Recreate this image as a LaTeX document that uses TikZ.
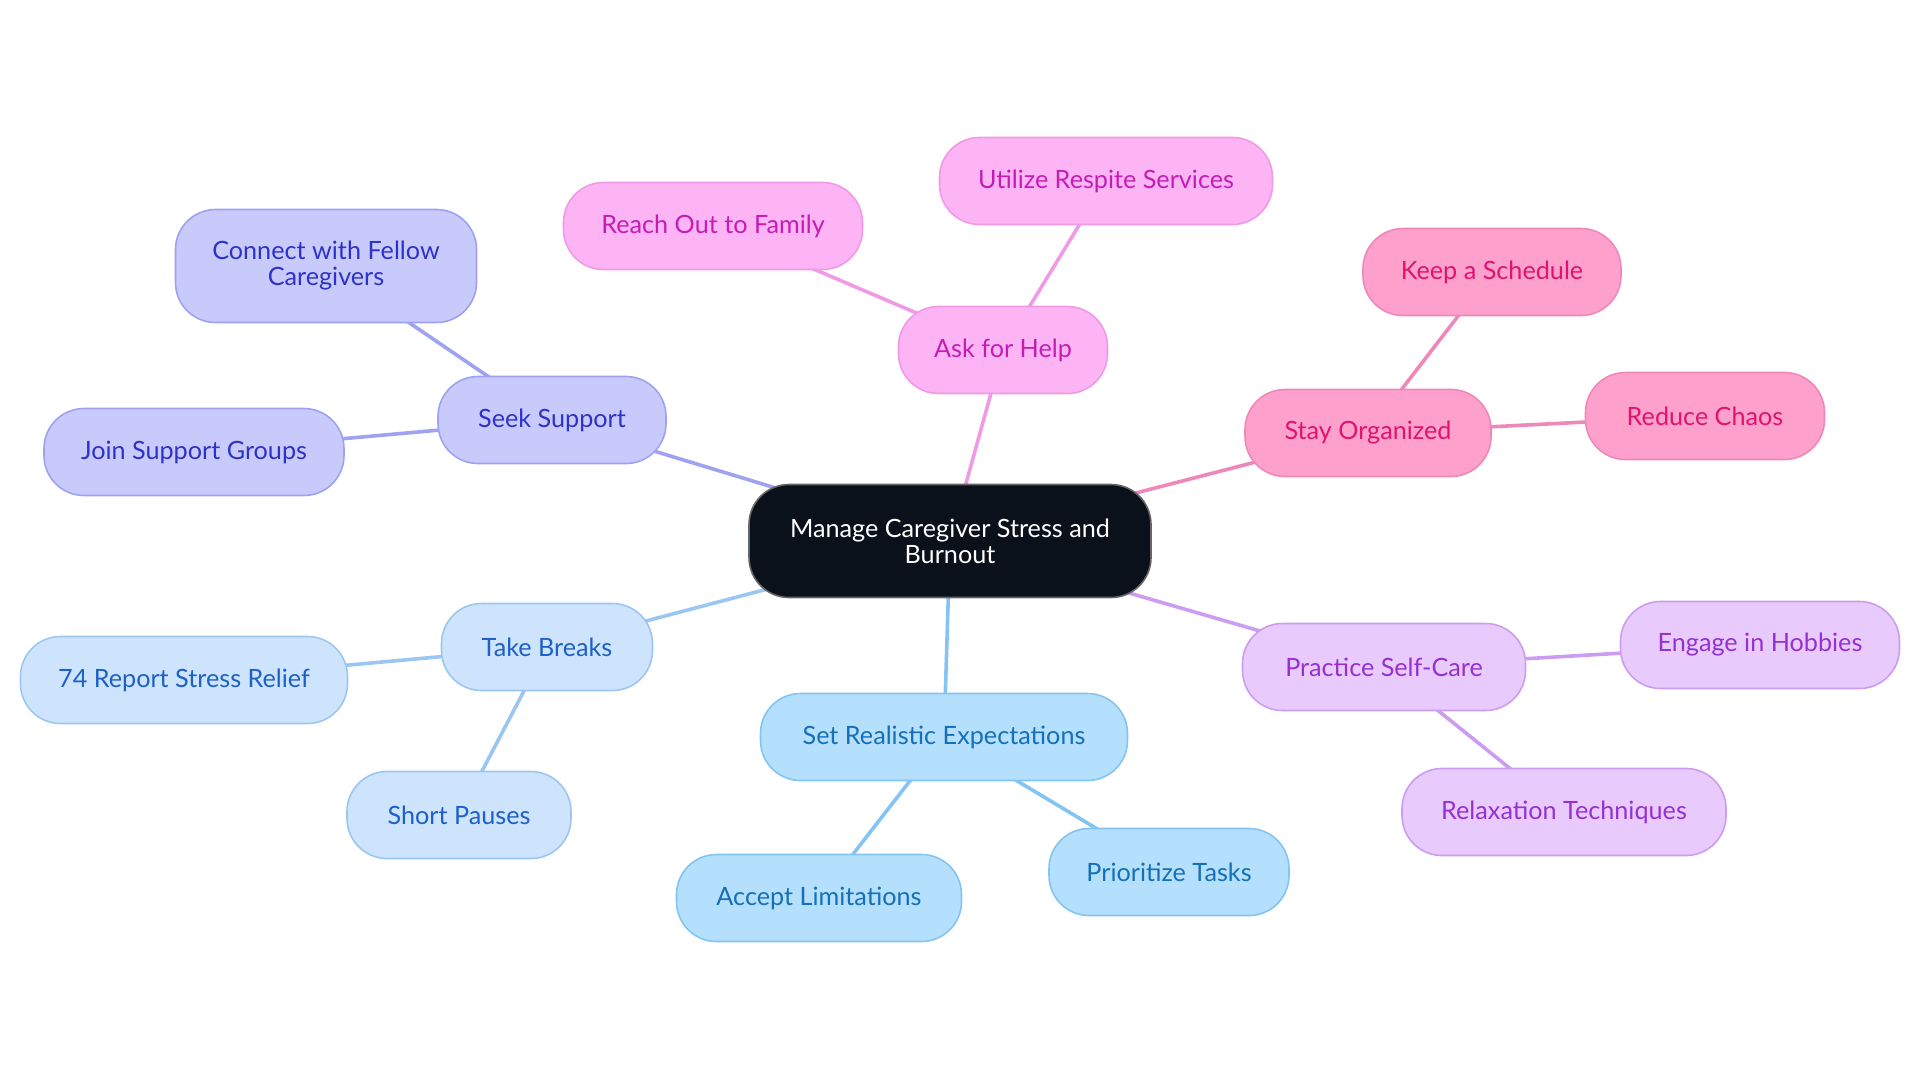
\documentclass[tikz,border=0pt]{standalone}
\usepackage{fontspec}
\setmainfont{Lato}
\usetikzlibrary{backgrounds}
\definecolor{ctrfill}{HTML}{0B111B}
\definecolor{seekfill}{HTML}{C8CAFC}\definecolor{seekdraw}{HTML}{9EA2F0}\definecolor{seektext}{HTML}{2E32C8}
\definecolor{askfill}{HTML}{FDB4F5}\definecolor{askdraw}{HTML}{F09AE6}\definecolor{asktext}{HTML}{C41DB6}
\definecolor{stayfill}{HTML}{FDA0CB}\definecolor{staydraw}{HTML}{EE88BA}\definecolor{staytext}{HTML}{DE1470}
\definecolor{selffill}{HTML}{E8CAFC}\definecolor{selfdraw}{HTML}{CC9CF0}\definecolor{selftext}{HTML}{9630D2}
\definecolor{setrfill}{HTML}{B4DFFD}\definecolor{setrdraw}{HTML}{84C4F2}\definecolor{setrtext}{HTML}{1570B8}
\definecolor{takefill}{HTML}{CEE4FC}\definecolor{takedraw}{HTML}{9CC6F2}\definecolor{taketext}{HTML}{1C60C8}
\begin{document}
\begin{tikzpicture}[x=0.5pt,y=0.5pt,yscale=-1,xscale=1,
    pill/.style={rounded corners=20pt,line width=0.8pt,minimum height=43.5pt,inner sep=2pt,align=center,font=\fontsize{12.6}{13}\selectfont},
    seekbox/.style={pill,fill=seekfill,draw=seekdraw,text=seektext},
    askbox/.style={pill,fill=askfill,draw=askdraw,text=asktext},
    staybox/.style={pill,fill=stayfill,draw=staydraw,text=staytext},
    selfbox/.style={pill,fill=selffill,draw=selfdraw,text=selftext},
    setrbox/.style={pill,fill=setrfill,draw=setrdraw,text=setrtext},
    takebox/.style={pill,fill=takefill,draw=takedraw,text=taketext},
    link/.style={line width=1.8pt}]
\useasboundingbox (0,0) rectangle (1920,1083);
% central topic
\node[pill,fill=ctrfill,draw=black!60,text=white,minimum width=201pt,minimum height=56.5pt] (ctr) at (950,541) {Manage Caregiver Stress and\\Burnout};
% seek support
\node[seekbox,minimum width=114pt] (seek) at (552,420) {Seek Support};
\node[seekbox,minimum width=150.5pt,minimum height=56.5pt] (connect) at (326,266) {Connect with Fellow\\Caregivers};
\node[seekbox,minimum width=150pt] (join) at (194,452) {Join Support Groups};
% ask for help
\node[askbox,minimum width=104.5pt] (ask) at (1003,350) {Ask for Help};
\node[askbox,minimum width=149.5pt] (family) at (713,226) {Reach Out to Family};
\node[askbox,minimum width=166.5pt] (respite) at (1106,181) {Utilize Respite Services};
% stay organized
\node[staybox,minimum width=123pt] (stay) at (1368,433) {Stay Organized};
\node[staybox,minimum width=129pt] (sched) at (1492,272) {Keep a Schedule};
\node[staybox,minimum width=119.5pt] (chaos) at (1705,416) {Reduce Chaos};
% self-care
\node[selfbox,minimum width=141.5pt] (self) at (1384,667) {Practice Self-Care};
\node[selfbox,minimum width=139.5pt] (hobby) at (1760,645) {Engage in Hobbies};
\node[selfbox,minimum width=162pt] (relax) at (1564,812) {Relaxation Techniques};
% expectations
\node[setrbox,minimum width=183.5pt] (setr) at (944,737) {Set Realistic Expectations};
\node[setrbox,minimum width=142.5pt] (accept) at (819,898) {Accept Limitations};
\node[setrbox,minimum width=120pt] (prior) at (1169,872) {Prioritize Tasks};
% breaks
\node[takebox,minimum width=105.5pt] (take) at (547,647) {Take Breaks};
\node[takebox,minimum width=163.5pt] (report) at (184,680) {74 Report Stress Relief};
\node[takebox,minimum width=112pt] (pause) at (459,815) {Short Pauses};
\begin{scope}[on background layer]
\draw[link,seekdraw] (ctr.center) -- (seek.center) (seek.center) -- (connect.center) (seek.center) -- (join.center);
\draw[link,askdraw] (ctr.center) -- (ask.center) (ask.center) -- (family.center) (ask.center) -- (respite.center);
\draw[link,staydraw] (ctr.center) -- (stay.center) (stay.center) -- (sched.center) (stay.center) -- (chaos.center);
\draw[link,selfdraw] (ctr.center) -- (self.center) (self.center) -- (hobby.center) (self.center) -- (relax.center);
\draw[link,setrdraw] (ctr.center) -- (setr.center) (setr.center) -- (accept.center) (setr.center) -- (prior.center);
\draw[link,takedraw] (ctr.center) -- (take.center) (take.center) -- (report.center) (take.center) -- (pause.center);
\end{scope}
\end{tikzpicture}
\end{document}
